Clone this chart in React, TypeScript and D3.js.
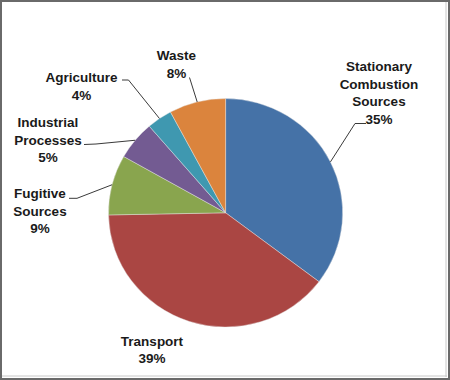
import React from "react";
import * as d3 from "d3";

const categories = [
  "Stationary Combustion Sources",
  "Transport",
  "Fugitive Sources",
  "Industrial Processes",
  "Agriculture",
  "Waste",
];
const shares = [35.3, 39.4, 8.5, 5.5, 3.5, 7.8];
const percentLabels = ["35%", "39%", "9%", "5%", "4%", "8%"];
const labelLines = [
  ["Stationary", "Combustion", "Sources"],
  ["Transport"],
  ["Fugitive", "Sources"],
  ["Industrial", "Processes"],
  ["Agriculture"],
  ["Waste"],
];
const colors = ["#4572A7", "#AA4643", "#89A54E", "#735B92", "#3F98B0", "#DB843D"];

// layout: label center x, first baseline y, line height, leader elbow points (from label side)
const layout = [
  { x: 379, y: 71, lh: 17.5, leader: [[366, 123.5], [355, 123.5]] },
  { x: 152, y: 346, lh: 17, leader: null },
  { x: 40, y: 198, lh: 17.7, leader: [[69, 198.3], [77, 198.3]] },
  { x: 48, y: 127, lh: 17.5, leader: [[84, 144.5], [96, 144]] },
  { x: 81.5, y: 82, lh: 17.5, leader: [[122, 80], [128.5, 80]] },
  { x: 176.5, y: 60, lh: 17.5, leader: [[189.5, 77.5]] },
];

export default function App() {
  const W = 450;
  const H = 380;
  const cx = 225.6;
  const cy = 212.8;
  const rx = 117.1;
  const ry = 114.25;
  const pie = d3
    .pie<number>()
    .sort(null)
    .value((d) => d)
    .startAngle(0)
    .endAngle(2 * Math.PI);
  const arcs = pie(shares);
  const arc = d3.arc<d3.PieArcDatum<number>>().innerRadius(0).outerRadius(ry);
  const sx = rx / ry;

  return (
    <svg
      width={W}
      height={H}
      style={{ position: "fixed", left: 0, top: 0, background: "#fff" }}
      fontFamily="'Liberation Sans', Arial, sans-serif"
    >
      <rect x={0} y={0} width={W} height={H} fill="#fff" />
      <g transform={`translate(${cx},${cy}) scale(${sx},1)`}>
        {arcs.map((a, i) => (
          <path
            key={categories[i]}
            d={arc(a) || ""}
            fill={colors[i]}
            stroke="#e8e8e8"
            strokeWidth={0.6}
            strokeOpacity={0.7}
          />
        ))}
      </g>
      {arcs.map((a, i) => {
        const L = layout[i];
        if (!L.leader) return null;
        const mid = (a.startAngle + a.endAngle) / 2;
        const ex = cx + rx * Math.sin(mid);
        const ey = cy - ry * Math.cos(mid);
        const pts = [...L.leader, [ex, ey]];
        const line = d3.line()(pts as [number, number][]);
        return (
          <path key={"l" + i} d={line || ""} fill="none" stroke="#3a3a3a" strokeWidth={1} />
        );
      })}
      {labelLines.map((lines, i) => {
        const L = layout[i];
        const all = [...lines, percentLabels[i]];
        return (
          <text
            key={"t" + i}
            textAnchor="middle"
            fontSize={13.5}
            fontWeight="bold"
            fill="#1a1a1a"
          >
            {all.map((s, j) => (
              <tspan key={j} x={L.x} y={L.y + j * L.lh}>
                {s}
              </tspan>
            ))}
          </text>
        );
      })}
      <rect x={1} y={1} width={W - 2} height={H - 2} fill="none" stroke="#6a6a6a" strokeWidth={2} />
      <line x1={446} y1={2} x2={446} y2={377} stroke="#c8c8c8" strokeWidth={1} />
      <line x1={2} y1={376} x2={447} y2={376} stroke="#c8c8c8" strokeWidth={1} />
    </svg>
  );
}
